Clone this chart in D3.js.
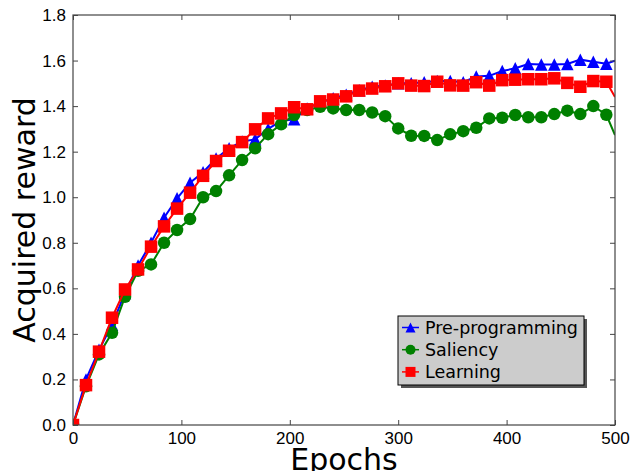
<!DOCTYPE html>
<html>
<head>
<meta charset="utf-8">
<script src="https://cdn.jsdelivr.net/npm/d3@7"></script>
<style>
  body { margin: 0; background: #fff; }
  svg { display: block; font-family: "DejaVu Sans", sans-serif; }
</style>
</head>
<body>
<div id="chart"></div>
<script>
// epochs at which the reward was recorded
const epochs = [0, 12, 24, 36, 48, 60, 72, 84, 96, 108, 120, 132, 144, 156, 168, 180, 192, 204, 216, 228,
  240, 252, 264, 276, 288, 300, 312, 324, 336, 348, 360, 372, 384, 396, 408, 420, 432, 444, 456, 468, 480, 492, 500];

const preProgramming = [0.0, 0.20, 0.33, 0.44, 0.58, 0.70, 0.80, 0.91, 0.995, 1.064, 1.11, 1.17, 1.215, 1.245, 1.254, 1.30, 1.335, 1.342, 1.39, 1.415,
  1.435, 1.45, 1.47, 1.485, 1.49, 1.50, 1.50, 1.505, 1.51, 1.51, 1.505, 1.53, 1.533, 1.554, 1.566, 1.585, 1.583, 1.583, 1.585, 1.604, 1.595, 1.586, 1.599];

const saliency = [0.0, 0.17, 0.31, 0.405, 0.563, 0.677, 0.705, 0.80, 0.856, 0.904, 1.0, 1.027, 1.096, 1.163, 1.215, 1.277, 1.320, 1.361, 1.383, 1.397,
  1.390, 1.383, 1.383, 1.372, 1.356, 1.302, 1.270, 1.269, 1.251, 1.276, 1.290, 1.305, 1.346, 1.349, 1.361, 1.351, 1.351, 1.365, 1.380, 1.365, 1.400, 1.362, 1.273];

const learning = [0.0, 0.175, 0.322, 0.471, 0.595, 0.683, 0.783, 0.872, 0.95, 1.02, 1.094, 1.159, 1.204, 1.242, 1.298, 1.346, 1.368, 1.395, 1.386, 1.421,
  1.429, 1.443, 1.468, 1.477, 1.487, 1.500, 1.490, 1.488, 1.507, 1.491, 1.490, 1.505, 1.490, 1.514, 1.516, 1.518, 1.518, 1.522, 1.502, 1.485, 1.510, 1.507, 1.440];

const seriesNames = ["Pre-programming", "Saliency", "Learning"];
const seriesColors = ["#0000ff", "#008000", "#ff0000"];
const seriesShapes = ["triangle", "circle", "square"];

const xTicks = [0, 100, 200, 300, 400, 500];
const yTicks = [0.0, 0.2, 0.4, 0.6, 0.8, 1.0, 1.2, 1.4, 1.6, 1.8];

const width = 631, height = 471;
const margin = { top: 15, right: 16, bottom: 46, left: 73 };
const plotW = width - margin.left - margin.right;
const plotH = height - margin.top - margin.bottom;

const x = d3.scaleLinear().domain([0, 500]).range([0, plotW]);
const y = d3.scaleLinear().domain([0, 1.8]).range([plotH, 0]);

const svg = d3.select("#chart").append("svg")
    .attr("width", width)
    .attr("height", height);

svg.append("defs").append("clipPath").attr("id", "plot-clip")
    .append("rect").attr("width", plotW).attr("height", plotH);

const g = svg.append("g").attr("transform", `translate(${margin.left},${margin.top})`);

// marker drawing, matplotlib-like: same bounding box for all three shapes
function drawMarker(sel, shape, size, color) {
  const h = size / 2;
  if (shape === "circle") {
    sel.append("circle").attr("r", h).attr("fill", color);
  } else if (shape === "square") {
    sel.append("rect").attr("x", -h).attr("y", -h).attr("width", size).attr("height", size).attr("fill", color);
  } else {
    sel.append("path").attr("d", `M0,${-h}L${-h},${h}L${h},${h}Z`).attr("fill", color);
  }
}

const series = [preProgramming, saliency, learning];
const line = d3.line().x((d, i) => x(epochs[i])).y(d => y(d));

const plot = g.append("g").attr("clip-path", "url(#plot-clip)");

series.forEach((vals, si) => {
  const sg = plot.append("g");
  sg.append("path")
      .datum(vals)
      .attr("fill", "none")
      .attr("stroke", seriesColors[si])
      .attr("stroke-width", 2)
      .attr("d", line);
  // the last sample (epoch 500) carries no marker
  sg.selectAll("g.mk")
      .data(vals.slice(0, vals.length - 1))
      .enter().append("g")
      .attr("class", "mk")
      .attr("transform", (d, i) => `translate(${x(epochs[i])},${y(d)})`)
      .each(function () { drawMarker(d3.select(this), seriesShapes[si], 12.5, seriesColors[si]); });
});

// axes, ticks pointing inward on all four sides
const tickLen = 5;
const axisColor = "#444";
const xAxis = g.append("g").attr("transform", `translate(0,${plotH})`)
    .call(d3.axisBottom(x).tickValues(xTicks).tickSize(-tickLen).tickPadding(7).tickFormat(d3.format("d")));
const xAxisTop = g.append("g")
    .call(d3.axisTop(x).tickValues(xTicks).tickSize(-tickLen).tickFormat(""));
const yAxis = g.append("g")
    .call(d3.axisLeft(y).tickValues(yTicks).tickSize(-tickLen).tickPadding(7).tickFormat(d3.format(".1f")));
const yAxisRight = g.append("g").attr("transform", `translate(${plotW},0)`)
    .call(d3.axisRight(y).tickValues(yTicks).tickSize(-tickLen).tickFormat(""));

[xAxis, xAxisTop, yAxis, yAxisRight].forEach(a => {
  a.select(".domain").remove();
  a.selectAll("line").attr("stroke", axisColor);
  a.selectAll("text").attr("fill", "#000").style("font-size", "17px");
});
xAxis.selectAll("text").attr("dy", "0.71em");

g.append("rect")
    .attr("width", plotW).attr("height", plotH)
    .attr("fill", "none").attr("stroke", axisColor).attr("stroke-width", 1.2);

// axis titles
svg.append("text")
    .attr("x", margin.left + plotW / 2)
    .attr("y", 470)
    .attr("text-anchor", "middle")
    .style("font-size", "30px")
    .text("Epochs");

svg.append("text")
    .attr("transform", `translate(35,${margin.top + plotH / 2}) rotate(-90)`)
    .attr("text-anchor", "middle")
    .style("font-size", "30px")
    .text("Acquired reward");

// legend
const lg = svg.append("g").attr("transform", "translate(398,316)");
lg.append("rect").attr("x", 3).attr("y", 3).attr("width", 186).attr("height", 69).attr("fill", "#555");
lg.append("rect").attr("width", 186).attr("height", 69)
    .attr("fill", "#cccccc").attr("stroke", "#000").attr("stroke-width", 1);

seriesNames.forEach((name, i) => {
  const row = lg.append("g").attr("transform", `translate(0,${11.5 + i * 22.2})`);
  row.append("line").attr("x1", 4).attr("x2", 21)
      .attr("stroke", seriesColors[i]).attr("stroke-width", 1.5);
  const m = row.append("g").attr("transform", "translate(12.5,0)");
  drawMarker(m, seriesShapes[i], 10, seriesColors[i]);
  row.append("text").attr("x", 27).attr("dy", "0.35em")
      .style("font-size", "17.5px").text(name);
});
</script>
</body>
</html>
